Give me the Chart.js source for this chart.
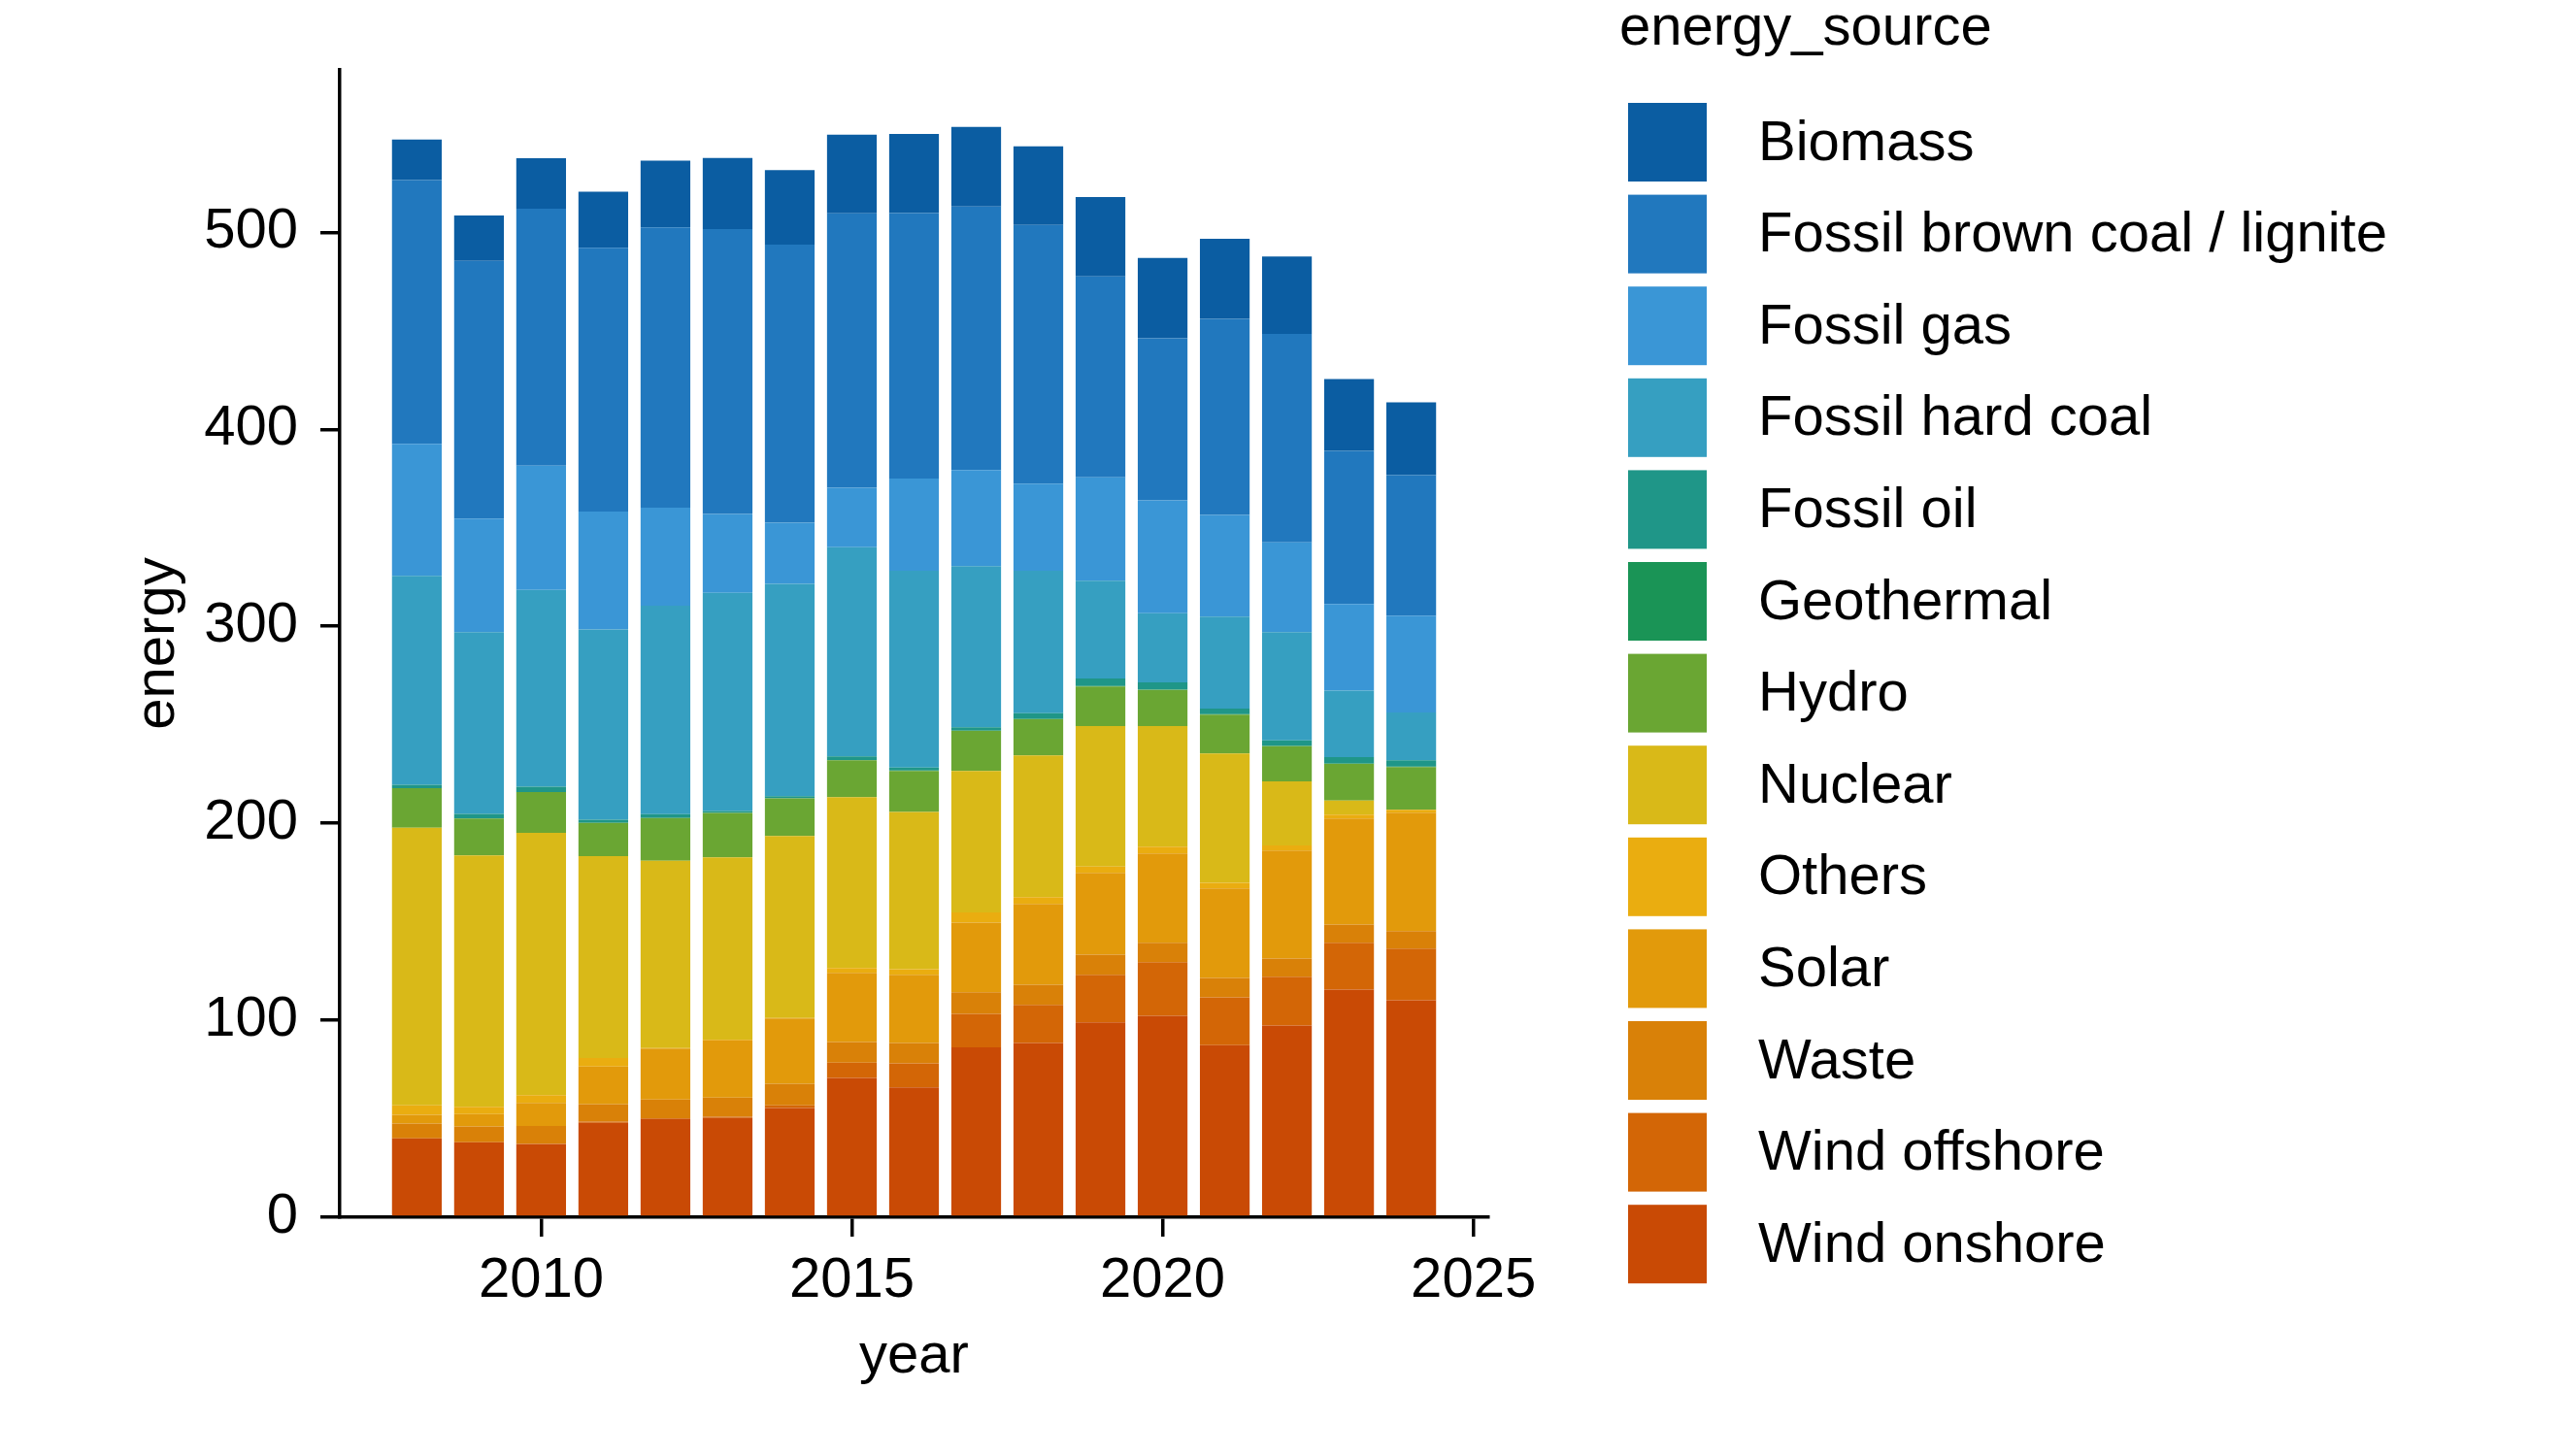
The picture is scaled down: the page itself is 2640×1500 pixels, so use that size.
<!DOCTYPE html>
<html>
<head>
<meta charset="utf-8">
<script src="https://cdn.jsdelivr.net/npm/chart.js@4.4.1/dist/chart.umd.min.js"></script>
<style>
  html, body { margin: 0; padding: 0; background: #ffffff; }
  canvas { display: block; }
</style>
</head>
<body>
<canvas id="chart" width="2640" height="1500" style="width:2640px;height:1500px"></canvas>
<script>
// ---------------- data ----------------
const years = [2008, 2009, 2010, 2011, 2012, 2013, 2014, 2015, 2016, 2017, 2018, 2019, 2020, 2021, 2022, 2023, 2024];

const windOnshore   = [40.1, 38.1, 37.1, 47.9, 49.9, 50.4, 55.4, 70.7, 65.9, 86.2, 88.4, 98.9, 102.3, 87.4, 97.3, 115.6, 110.2];
const windOffshore  = [0.0, 0.0, 0.2, 0.6, 0.4, 0.6, 1.4, 7.8, 12.2, 17.1, 19.4, 24.2, 27.2, 24.2, 24.8, 23.8, 26.2];
const waste         = [7.4, 8.0, 9.0, 8.9, 9.5, 9.8, 10.9, 10.5, 10.3, 10.9, 10.2, 10.2, 9.9, 9.9, 9.2, 9.2, 8.8];
const solar         = [4.5, 6.3, 11.7, 19.1, 25.8, 29.0, 33.2, 35.1, 34.7, 35.4, 41.1, 41.5, 45.3, 45.5, 54.8, 53.8, 60.2];
const others        = [4.8, 3.6, 4.0, 4.3, 0.3, 0.4, 0.3, 2.4, 2.8, 5.1, 3.4, 3.2, 3.4, 2.8, 2.6, 2.0, 1.4];
const nuclear       = [141.0, 127.7, 133.2, 102.5, 95.1, 92.5, 92.3, 86.8, 79.9, 71.9, 71.9, 71.3, 61.2, 65.6, 32.6, 7.1, 0.0];
const hydro         = [20.0, 18.7, 20.7, 16.9, 21.7, 22.5, 19.1, 18.7, 20.8, 20.3, 18.4, 20.2, 18.4, 19.8, 17.8, 18.7, 21.8];
const geothermal    = [0.0, 0.0, 0.0, 0.0, 0.0, 0.1, 0.1, 0.1, 0.2, 0.2, 0.2, 0.2, 0.2, 0.2, 0.2, 0.2, 0.2];
const fossilOil     = [1.8, 2.4, 2.6, 1.6, 2.0, 1.0, 1.0, 1.9, 1.5, 1.7, 2.9, 3.8, 3.6, 2.8, 2.8, 3.2, 3.2];
const fossilHard    = [106.0, 92.2, 100.0, 96.6, 105.8, 110.7, 107.8, 106.2, 99.9, 81.7, 72.3, 49.7, 35.2, 46.7, 54.9, 33.7, 24.2];
const fossilGas     = [67.0, 57.7, 63.1, 59.9, 49.8, 40.1, 31.1, 30.1, 46.8, 48.9, 44.3, 52.5, 57.3, 51.7, 45.6, 44.0, 49.2];
const fossilBrown   = [134.0, 130.9, 130.4, 133.9, 142.2, 144.6, 141.2, 139.4, 134.8, 133.7, 131.3, 102.0, 82.2, 99.5, 105.8, 77.8, 71.4];
const biomass       = [20.6, 23.0, 25.7, 28.5, 33.9, 36.1, 37.8, 39.9, 40.2, 40.4, 39.9, 40.2, 40.8, 40.7, 39.3, 36.4, 36.9];

const xTickValues = [2010, 2015, 2020, 2025];
const yTickValues = [0, 100, 200, 300, 400, 500];
const xTitle = 'year';
const yTitle = 'energy';
const legendTitle = 'energy_source';

// ---------------- styling ----------------
const FONT = '"Liberation Sans", Arial, Helvetica, sans-serif';
const FS = 58;

// stacking order: bottom -> top
const series = [
  { label: 'Wind onshore', data: windOnshore, color: '#c94a05' },
  { label: 'Wind offshore', data: windOffshore, color: '#d36606' },
  { label: 'Waste', data: waste, color: '#d98108' },
  { label: 'Solar', data: solar, color: '#e29a0b' },
  { label: 'Others', data: others, color: '#eaad10' },
  { label: 'Nuclear', data: nuclear, color: '#d9b918' },
  { label: 'Hydro', data: hydro, color: '#6aa633' },
  { label: 'Geothermal', data: geothermal, color: '#1a9456' },
  { label: 'Fossil oil', data: fossilOil, color: '#1f9688' },
  { label: 'Fossil hard coal', data: fossilHard, color: '#369fc1' },
  { label: 'Fossil gas', data: fossilGas, color: '#3a96d6' },
  { label: 'Fossil brown coal / lignite', data: fossilBrown, color: '#2178be' },
  { label: 'Biomass', data: biomass, color: '#0b5da2' }
];

const sideLegend = {
  id: 'sideLegend',
  afterDraw(chart) {
    const ctx = chart.ctx;
    ctx.save();
    ctx.font = FS + 'px ' + FONT;
    ctx.textAlign = 'left';
    ctx.textBaseline = 'middle';
    ctx.fillStyle = '#000000';
    ctx.fillText(legendTitle, 1668, 30);
    const items = chart.data.datasets.slice().reverse();
    const boxX = 1677, boxTop = 106, box = 81, step = 94.6, textX = 1811;
    items.forEach((ds, i) => {
      const top = boxTop + i * step;
      ctx.fillStyle = ds.backgroundColor;
      ctx.fillRect(boxX, top, box, box);
      ctx.fillStyle = '#000000';
      ctx.fillText(ds.label, textX, top + box / 2 + 2);
    });
    ctx.restore();
  }
};

const axisCommon = {
  stacked: true,
  offset: false,
  grid: { display: true, offset: false, drawOnChartArea: false, drawTicks: true, tickLength: 20, color: '#000000', lineWidth: 3.5 },
  border: { display: true, color: '#000000', width: 3.5 }
};

new Chart(document.getElementById('chart'), {
  type: 'bar',
  data: {
    labels: years,
    datasets: series.map(s => ({
      label: s.label,
      data: s.data,
      backgroundColor: s.color,
      borderWidth: 0,
      barPercentage: 0.8,
      categoryPercentage: 1.0
    }))
  },
  options: {
    responsive: false,
    devicePixelRatio: 1,
    animation: false,
    layout: { padding: { left: 0, top: 72, right: 1107, bottom: 0 } },
    plugins: { legend: { display: false }, tooltip: { enabled: false } },
    scales: {
      x: Object.assign({}, axisCommon, {
        type: 'linear',
        min: 2006.76,
        max: 2025.24,
        afterBuildTicks: s => { s.ticks = xTickValues.map(v => ({ value: v })); },
        afterFit: s => { s.height = 246; },
        ticks: { font: { family: FONT, size: FS }, color: '#000000', padding: 11, maxRotation: 0, autoSkip: false, callback: v => String(v) },
        title: { display: true, text: xTitle, font: { family: FONT, size: FS }, color: '#000000', padding: { top: 0, bottom: 67 } }
      }),
      y: Object.assign({}, axisCommon, {
        type: 'linear',
        min: 0,
        max: 582.5,
        afterBuildTicks: s => { s.ticks = yTickValues.map(v => ({ value: v })); },
        afterFit: s => { s.width = 350; },
        ticks: { font: { family: FONT, size: FS }, color: '#000000', padding: 23, callback: v => String(v) },
        title: { display: true, text: yTitle, font: { family: FONT, size: FS }, color: '#000000', padding: { top: 128, bottom: 0 } }
      })
    }
  },
  plugins: [sideLegend]
});
</script>
</body>
</html>
